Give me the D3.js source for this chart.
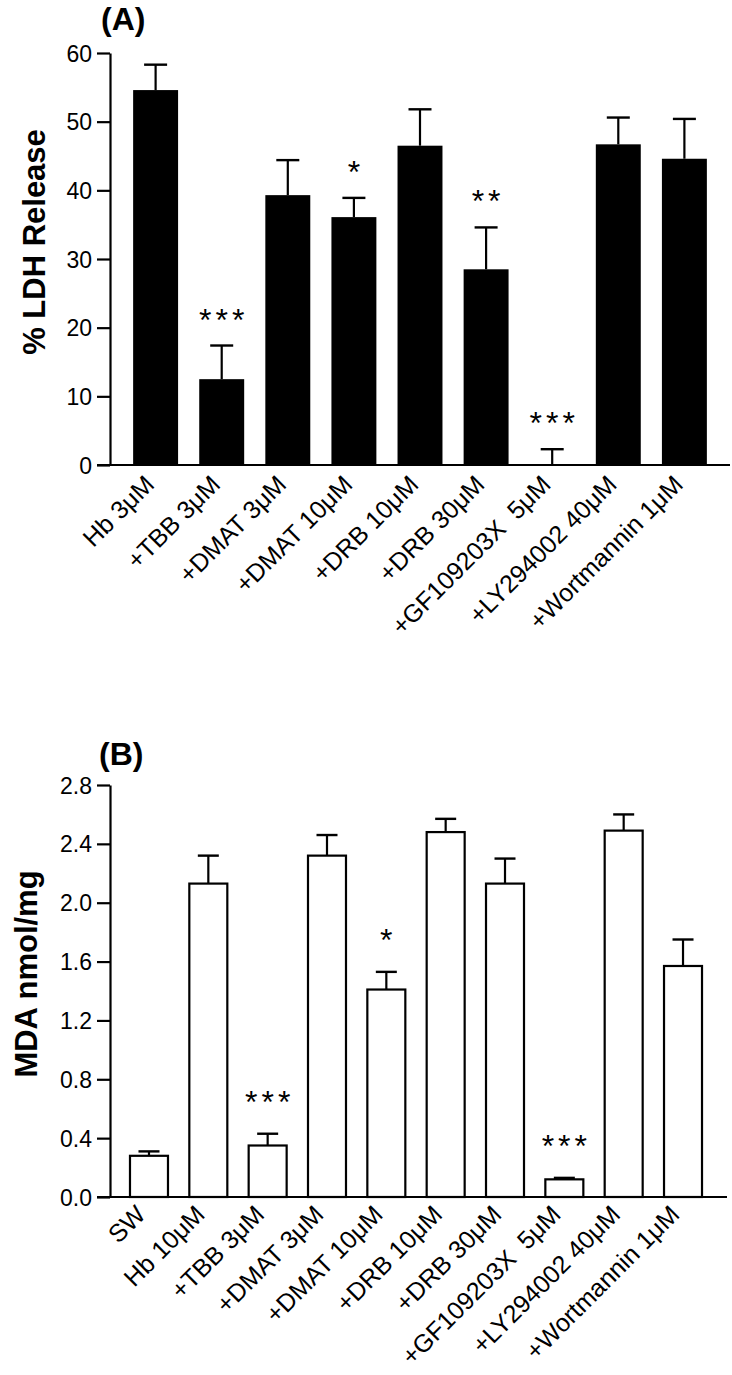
<!DOCTYPE html>
<html>
<head>
<meta charset="utf-8">
<script src="https://cdn.jsdelivr.net/npm/d3@7"></script>
<style>
  html, body { margin: 0; padding: 0; background: #fff; }
  svg { display: block; }
  text { font-family: "Liberation Sans", Arial, sans-serif; fill: #000; }
</style>
</head>
<body>
<svg id="chart" width="732" height="1375"></svg>
<script>
// ---------- Panel A data ----------
const categoriesA = ["Hb 3\u03bcM", "+TBB 3\u03bcM", "+DMAT 3\u03bcM", "+DMAT 10\u03bcM", "+DRB 10\u03bcM",
  "+DRB 30\u03bcM", "+GF109203X  5\u03bcM", "+LY294002 40\u03bcM", "+Wortmannin 1\u03bcM"];
const meanA = [54.6, 12.5, 39.3, 36.1, 46.5, 28.5, 0, 46.7, 44.6];
const errA  = [3.7, 4.9, 5.1, 2.8, 5.3, 6.1, 2.3, 3.9, 5.8];
const starsA = ["", "***", "", "*", "", "**", "***", "", ""];
const ticksA = [0, 10, 20, 30, 40, 50, 60];

// ---------- Panel B data ----------
const categoriesB = ["SW", "Hb 10\u03bcM", "+TBB 3\u03bcM", "+DMAT 3\u03bcM", "+DMAT 10\u03bcM", "+DRB 10\u03bcM",
  "+DRB 30\u03bcM", "+GF109203X  5\u03bcM", "+LY294002 40\u03bcM", "+Wortmannin 1\u03bcM"];
const meanB = [0.28, 2.13, 0.35, 2.32, 1.41, 2.48, 2.13, 0.12, 2.49, 1.57];
const errB  = [0.03, 0.19, 0.08, 0.14, 0.12, 0.09, 0.17, 0.01, 0.11, 0.18];
const starsB = ["", "", "***", "", "*", "", "", "***", "", ""];
const ticksB = [0, 0.4, 0.8, 1.2, 1.6, 2.0, 2.4, 2.8];

const svg = d3.select("#chart");

function panel(cfg) {
  const g = svg.append("g");
  const x = d3.scaleBand().domain(cfg.cats).range(cfg.xRange)
    .paddingInner(cfg.padIn).paddingOuter(cfg.padOut);
  const y = d3.scaleLinear().domain(cfg.yDomain).range(cfg.yRange);
  const bw = x.bandwidth();
  const base = y(0);

  // bars
  g.selectAll("rect.bar").data(cfg.cats).join("rect")
    .attr("class", "bar")
    .attr("x", d => x(d) + (cfg.filled ? 0 : 1))
    .attr("width", bw - (cfg.filled ? 0 : 2))
    .attr("y", (d, i) => y(cfg.mean[i]))
    .attr("height", (d, i) => base - y(cfg.mean[i]))
    .attr("fill", cfg.filled ? "#000" : "#fff")
    .attr("stroke", "#000")
    .attr("stroke-width", cfg.filled ? 0 : 2.2);

  // error bars (upper only)
  const eg = g.selectAll("g.err").data(cfg.cats).join("g").attr("class", "err");
  eg.append("line")
    .attr("x1", d => x(d) + bw / 2).attr("x2", d => x(d) + bw / 2)
    .attr("y1", (d, i) => y(cfg.mean[i]))
    .attr("y2", (d, i) => y(cfg.mean[i] + cfg.err[i]))
    .attr("stroke", "#000").attr("stroke-width", 2.2);
  eg.append("line")
    .attr("x1", d => x(d) + bw / 2 - cfg.cap / 2).attr("x2", d => x(d) + bw / 2 + cfg.cap / 2)
    .attr("y1", (d, i) => y(cfg.mean[i] + cfg.err[i]))
    .attr("y2", (d, i) => y(cfg.mean[i] + cfg.err[i]))
    .attr("stroke", "#000").attr("stroke-width", 2.4);

  // significance stars
  g.selectAll("text.star").data(cfg.cats).join("text")
    .attr("class", "star")
    .attr("x", d => x(d) + bw / 2 + 2)
    .attr("y", (d, i) => y(cfg.mean[i] + cfg.err[i]) - cfg.starGap)
    .attr("text-anchor", "middle")
    .attr("font-size", 32)
    .attr("letter-spacing", 4)
    .text((d, i) => cfg.stars[i]);

  // y axis
  const yAxis = d3.axisLeft(y).tickValues(cfg.ticks).tickSize(13).tickSizeOuter(0)
    .tickPadding(5).tickFormat(cfg.fmt);
  const ya = g.append("g").attr("transform", `translate(${cfg.xRange[0]},0)`).call(yAxis);
  ya.attr("font-size", null).attr("font-family", null);
  ya.select(".domain").attr("stroke-width", 2.2);
  ya.selectAll(".tick line").attr("stroke-width", 2.2);
  ya.selectAll(".tick text").attr("font-size", 23).attr("fill", "#000").attr("dy", "0.35em");

  // x axis baseline
  g.append("line")
    .attr("x1", cfg.xRange[0] - 13).attr("x2", cfg.xAxisEnd)
    .attr("y1", base).attr("y2", base)
    .attr("stroke", "#000").attr("stroke-width", 2.2);

  // x labels
  g.selectAll("text.xl").data(cfg.cats).join("text")
    .attr("class", "xl")
    .attr("transform", d => `translate(${x(d) + bw / 2 + cfg.lblDx},${base + cfg.lblDy}) rotate(-45)`)
    .attr("text-anchor", "end")
    .attr("font-size", 25)
    .style("white-space", "pre")
    .text(d => d);

  // y title
  g.append("text")
    .attr("transform", `translate(${cfg.titleX},${cfg.titleY}) rotate(-90)`)
    .attr("text-anchor", "middle")
    .attr("font-size", 31).attr("font-weight", "bold")
    .text(cfg.title);

  // panel label
  g.append("text")
    .attr("x", cfg.labelX).attr("y", cfg.labelY)
    .attr("font-size", 32).attr("font-weight", "bold")
    .text(cfg.label);
}

panel({
  cats: categoriesA, mean: meanA, err: errA, stars: starsA, ticks: ticksA,
  xRange: [110, 730], xAxisEnd: 730, padIn: 0.32, padOut: 0.35,
  yDomain: [0, 60], yRange: [465, 53], filled: true, cap: 23, starGap: 15,
  fmt: d3.format("d"), lblDx: 0, lblDy: 21,
  title: "% LDH Release", titleX: 45, titleY: 242,
  label: "(A)", labelX: 101, labelY: 30
});

panel({
  cats: categoriesB, mean: meanB, err: errB, stars: starsB, ticks: ticksB,
  xRange: [110, 722], xAxisEnd: 727, padIn: 0.326, padOut: 0.32,
  yDomain: [0, 2.8], yRange: [1197, 785], filled: false, cap: 21, starGap: 21,
  fmt: d3.format(".1f"), lblDx: -2, lblDy: 19,
  title: "MDA nmol/mg", titleX: 37, titleY: 974,
  label: "(B)", labelX: 99, labelY: 765
});
</script>
</body>
</html>
